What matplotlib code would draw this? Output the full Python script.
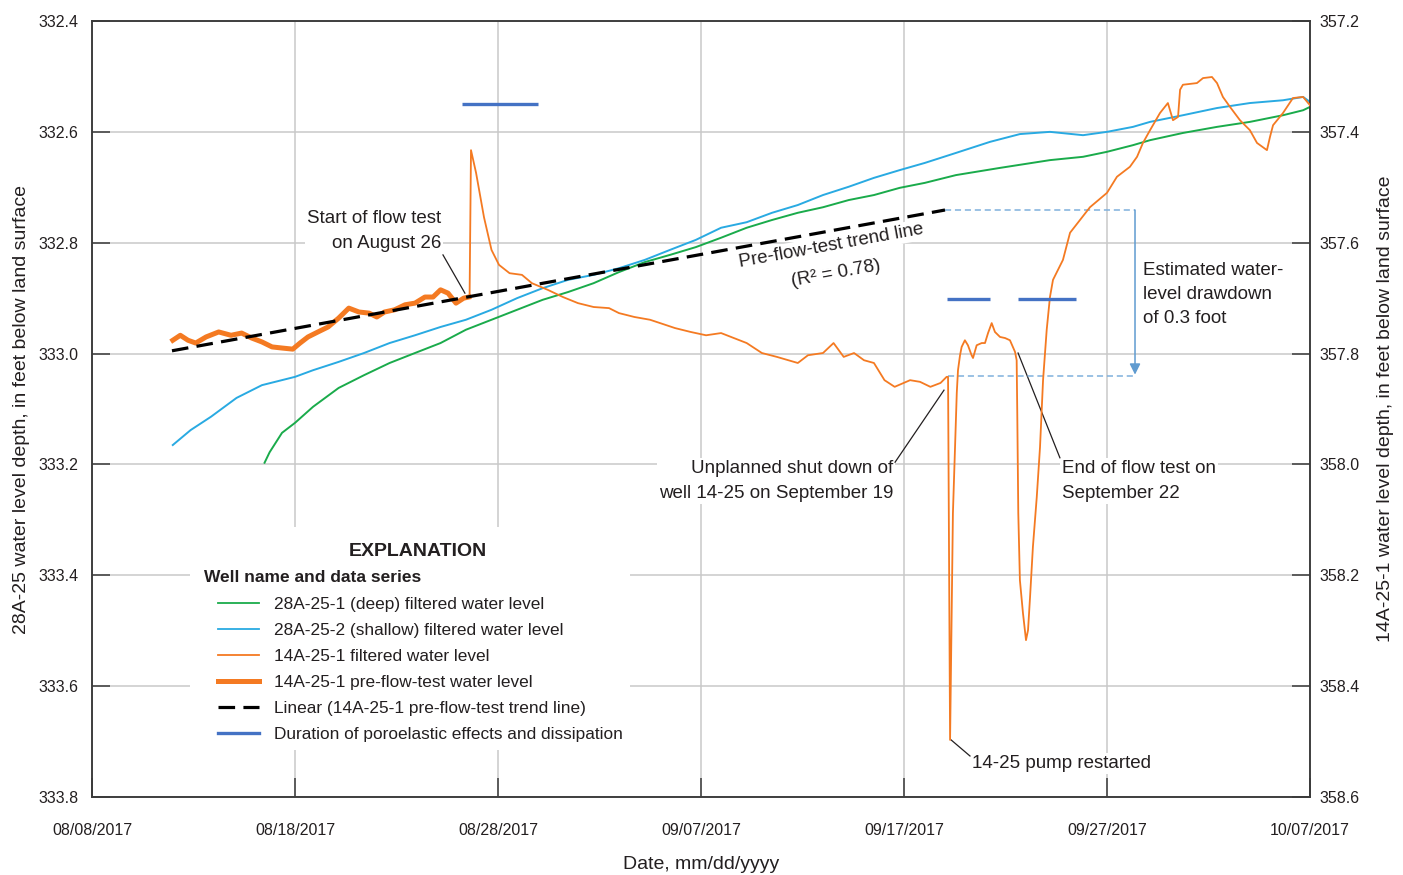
import matplotlib
matplotlib.use("Agg")
import matplotlib.pyplot as plt
import matplotlib.dates as mdates
from matplotlib.lines import Line2D
from matplotlib.patches import Rectangle
import numpy as np
import pandas as pd

plt.rcParams['font.family'] = ['Liberation Sans Narrow', 'Liberation Sans', 'DejaVu Sans']
txt_color = '#231f20'

# dias contados desde 08/08/2017
green_days = [8.50, 8.75, 9.36, 10.00, 10.89, 12.15, 13.40, 14.66, 15.91, 17.17, 18.42, 19.68, 20.94,
              22.20, 23.45, 24.71, 25.96, 27.23, 28.47, 29.74, 30.99, 32.25, 33.50, 34.77, 36.01, 37.28,
              38.52, 39.79, 41.03, 42.56, 44.73, 47.19, 48.82, 50.00, 51.28, 52.12, 53.74, 55.42, 57.04,
              58.67, 59.66, 60.00]
green_vals = [333.197, 333.178, 333.143, 333.125, 333.096, 333.062, 333.039, 333.017, 332.999, 332.981,
              332.957, 332.939, 332.921, 332.903, 332.889, 332.873, 332.853, 332.835, 332.822, 332.808,
              332.791, 332.773, 332.759, 332.746, 332.736, 332.723, 332.714, 332.701, 332.692, 332.678,
              332.665, 332.651, 332.645, 332.636, 332.624, 332.615, 332.602, 332.591, 332.582, 332.570,
              332.561, 332.555]

blue_days = [3.98, 4.86, 5.86, 7.12, 8.37, 10.00, 10.89, 12.15, 13.40, 14.66, 15.91, 17.17, 18.42, 19.68,
             20.94, 22.20, 23.45, 24.71, 25.96, 27.23, 28.47, 29.74, 30.99, 32.25, 33.50, 34.77, 36.01,
             37.28, 38.52, 39.79, 41.03, 42.56, 44.24, 45.71, 47.19, 48.82, 50.00, 51.28, 52.12, 53.74,
             55.42, 57.04, 58.67, 59.66, 60.00]
blue_vals = [333.165, 333.138, 333.114, 333.080, 333.057, 333.042, 333.030, 333.015, 332.999, 332.981,
             332.967, 332.952, 332.939, 332.921, 332.900, 332.882, 332.867, 332.858, 332.846, 332.831,
             332.813, 332.795, 332.773, 332.763, 332.746, 332.732, 332.714, 332.699, 332.683, 332.669,
             332.656, 332.638, 332.618, 332.604, 332.600, 332.606, 332.600, 332.591, 332.582, 332.570,
             332.557, 332.548, 332.543, 332.537, 332.546]

pre_days = [3.98, 4.35, 4.73, 5.11, 5.62, 6.24, 6.85, 7.37, 7.87, 8.37, 8.87, 9.36, 9.89, 10.25, 10.64,
            11.13, 11.63, 12.15, 12.65, 13.15, 13.65, 14.03, 14.41, 14.91, 15.42, 15.91, 16.40, 16.80,
            17.17, 17.54, 17.93, 18.31, 18.56]
pre_vals = [357.776, 357.767, 357.776, 357.781, 357.770, 357.761, 357.767, 357.763, 357.772, 357.779,
            357.788, 357.790, 357.792, 357.781, 357.770, 357.761, 357.752, 357.736, 357.718, 357.725,
            357.727, 357.734, 357.725, 357.721, 357.712, 357.709, 357.698, 357.698, 357.685, 357.691,
            357.709, 357.700, 357.698]

filt_days = [18.56, 18.60, 18.67, 18.92, 19.31, 19.68, 20.05, 20.57, 21.18, 21.67, 22.45, 23.20, 23.94,
             24.71, 25.47, 25.96, 26.72, 27.49, 28.23, 28.72, 29.49, 30.25, 30.99, 31.48, 32.25, 33.00,
             33.74, 34.77, 35.27, 36.01, 36.53, 37.03, 37.54, 38.03, 38.52, 39.04, 39.54, 40.30, 40.79,
             41.30, 41.80, 42.10, 42.17, 42.27, 42.41, 42.60, 42.66, 42.76, 42.84, 43.00, 43.15, 43.33,
             43.40, 43.58, 43.83, 43.99, 44.14, 44.32, 44.48, 44.73, 44.98, 45.22, 45.47, 45.55, 45.58,
             45.63, 45.71, 45.86, 46.01, 46.11, 46.21, 46.35, 46.54, 46.70, 46.85, 47.03, 47.19, 47.34,
             47.83, 48.18, 49.16, 50.00, 50.49, 51.13, 51.48, 51.77, 52.12, 52.61, 53.00, 53.25, 53.50,
             53.60, 53.74, 54.43, 54.73, 55.17, 55.42, 55.71, 56.06, 56.55, 57.04, 57.39, 57.88, 58.03,
             58.18, 58.67, 59.16, 59.66, 60.00]
filt_vals = [357.698, 357.698, 357.433, 357.474, 357.554, 357.613, 357.640, 357.655, 357.658, 357.673,
             357.685, 357.698, 357.709, 357.716, 357.718, 357.727, 357.734, 357.739, 357.748, 357.754,
             357.761, 357.767, 357.763, 357.770, 357.781, 357.799, 357.806, 357.817, 357.803, 357.799,
             357.781, 357.806, 357.799, 357.812, 357.817, 357.848, 357.860, 357.848, 357.851, 357.860,
             357.853, 357.842, 357.842, 358.497, 358.088, 357.871, 357.830, 357.803, 357.788, 357.776,
             357.785, 357.803, 357.808, 357.785, 357.781, 357.781, 357.763, 357.745, 357.761, 357.770,
             357.772, 357.776, 357.797, 357.812, 357.907, 358.088, 358.209, 358.268, 358.317, 358.299,
             358.239, 358.149, 358.059, 357.969, 357.848, 357.757, 357.698, 357.667, 357.631, 357.582,
             357.536, 357.510, 357.481, 357.463, 357.445, 357.420, 357.397, 357.366, 357.348, 357.379,
             357.373, 357.324, 357.315, 357.312, 357.303, 357.301, 357.312, 357.337, 357.355, 357.379,
             357.397, 357.420, 357.433, 357.409, 357.388, 357.366, 357.339, 357.337, 357.352]

# linea de tendencia (extremos) y duraciones poroelasticas
trend_days = [3.94, 42.02]
trend_vals = [357.795, 357.541]
dur_starts = [18.23, 42.12, 45.62]
dur_ends = [21.97, 44.24, 48.47]
dur_vals = [357.350, 357.702, 357.702]
drawdown_days = [42.02, 51.38]
drawdown_top = 357.541
drawdown_bottom = 357.840

tick_labels = ['08/08/2017', '08/18/2017', '08/28/2017', '09/07/2017', '09/17/2017', '09/27/2017', '10/07/2017']
left_ticks = [332.4, 332.6, 332.8, 333.0, 333.2, 333.4, 333.6, 333.8]
right_ticks = [357.2, 357.4, 357.6, 357.8, 358.0, 358.2, 358.4, 358.6]

base = mdates.date2num(pd.Timestamp('2017-08-08'))
def fecha(dias):
    return base + np.array(dias, dtype=float)

c_green = '#1aab4b'
c_blue = '#29aae2'
c_orange = '#f47a22'
c_bar = '#4472c4'
c_dd = '#7fb0dc'

fig = plt.figure(figsize=(14.03, 8.75), dpi=100)
ax = fig.add_axes([0.06557, 0.08914, 0.86814, 0.88686])
ax2 = ax.twinx()

ax.set_ylim(333.8, 332.4)
ax2.set_ylim(358.6, 357.2)
ax.set_xlim(fecha([0])[0], fecha([60])[0])

ax.set_axisbelow(True)
ax.grid(True, color='#c9c9c9', lw=1.1)

# series del eje izquierdo
ln_green, = ax.plot(fecha(green_days), green_vals, color=c_green, lw=1.4, zorder=2)
ln_blue, = ax.plot(fecha(blue_days), blue_vals, color=c_blue, lw=1.4, zorder=2)

# series del eje derecho
ln_filt, = ax2.plot(fecha(filt_days), filt_vals, color=c_orange, lw=1.3, zorder=3)
ln_pre, = ax2.plot(fecha(pre_days), pre_vals, color=c_orange, lw=3.6, zorder=4)
ln_trend, = ax2.plot(fecha(trend_days), trend_vals, color='black', lw=2.3, dashes=(5.2, 2.6), zorder=5)
for s, e, v in zip(dur_starts, dur_ends, dur_vals):
    ax2.plot(fecha([s, e]), [v, v], color=c_bar, lw=2.4, solid_capstyle='butt', zorder=3)

# abatimiento estimado
ax2.plot(fecha(drawdown_days), [drawdown_top, drawdown_top], color=c_dd, lw=1.1, dashes=(4, 2.5), zorder=2)
ax2.plot(fecha([42.17, drawdown_days[1]]), [drawdown_bottom, drawdown_bottom], color=c_dd, lw=1.1,
         dashes=(4, 2.5), zorder=2)
xa = fecha([drawdown_days[1]])[0]
ax2.annotate('', xy=(xa, drawdown_bottom - 0.002), xytext=(xa, drawdown_top),
             arrowprops=dict(arrowstyle='-|>', color='#5f9bd0', lw=1.1, mutation_scale=16,
                             shrinkA=0, shrinkB=0), zorder=2)

# textos
box = dict(facecolor='white', edgecolor='none', pad=1.5)
fs = 13.5
ls = 1.55
ax.text(fecha([17.19])[0], 332.779, 'Start of flow test\non August 26', ha='right', va='center',
        fontsize=fs, color=txt_color, linespacing=ls, bbox=box, zorder=1)
ax.plot(fecha([17.29, 18.37]), [332.822, 332.891], color=txt_color, lw=0.9, zorder=3)
ax.text(fecha([36.40])[0], 332.806, 'Pre-flow-test trend line', ha='center', va='center', rotation=10.3,
        rotation_mode='anchor', fontsize=fs, color=txt_color, bbox=box, zorder=1)
ax.text(fecha([36.65])[0], 332.855, '(R² = 0.78)', ha='center', va='center', rotation=10.3,
        rotation_mode='anchor', fontsize=fs, color=txt_color, zorder=1)
ax.text(fecha([51.77])[0], 332.893, 'Estimated water-\nlevel drawdown\nof 0.3 foot', ha='left', va='center',
        fontsize=fs, color=txt_color, linespacing=ls, bbox=box, zorder=1)
ax.text(fecha([39.46])[0], 333.230, 'Unplanned shut down of\nwell 14-25 on September 19', ha='right',
        va='center', fontsize=fs, color=txt_color, linespacing=ls, bbox=box, zorder=1)
ax.plot(fecha([39.56, 41.97]), [333.196, 333.066], color=txt_color, lw=0.9, zorder=3)
ax.text(fecha([47.78])[0], 333.230, 'End of flow test on\nSeptember 22', ha='left', va='center',
        fontsize=fs, color=txt_color, linespacing=ls, bbox=box, zorder=1)
ax.plot(fecha([47.68, 45.62]), [333.188, 332.999], color=txt_color, lw=0.9, zorder=3)
ax.text(fecha([43.35])[0], 333.740, '14-25 pump restarted', ha='left', va='center',
        fontsize=fs, color=txt_color, bbox=box, zorder=1)
ax.plot(fecha([43.25, 42.32]), [333.726, 333.697], color=txt_color, lw=0.9, zorder=3)

# cuadro de explicacion
ax.add_patch(Rectangle((0.0805, 0.0606), 0.3612, 0.2874, transform=ax.transAxes, facecolor='white',
                       edgecolor='none', zorder=1))
ax.text(0.2677, 0.3160, 'EXPLANATION', transform=ax.transAxes, ha='center', va='center',
        fontsize=14, fontweight='bold', color=txt_color, zorder=1.5)
ax.text(0.0920, 0.2835, 'Well name and data series', transform=ax.transAxes, ha='left', va='center',
        fontsize=12.5, fontweight='bold', color=txt_color, zorder=1.5)
handles = [Line2D([], [], color=c_green, lw=1.3), Line2D([], [], color=c_blue, lw=1.3),
           Line2D([], [], color=c_orange, lw=1.3), Line2D([], [], color=c_orange, lw=3.6),
           Line2D([], [], color='black', lw=2.3, dashes=(5.2, 2.6)), Line2D([], [], color=c_bar, lw=2.4)]
labels = ['28A-25-1 (deep) filtered water level', '28A-25-2 (shallow) filtered water level',
          '14A-25-1 filtered water level', '14A-25-1 pre-flow-test water level',
          'Linear (14A-25-1 pre-flow-test trend line)', 'Duration of poroelastic effects and dissipation']
leg = ax2.legend(handles, labels, loc='upper left', bbox_to_anchor=(0.1034, 0.2576),
                 bbox_transform=ax.transAxes, frameon=False, fontsize=12.4, handlelength=2.4,
                 handletextpad=0.86, labelspacing=0.63, borderpad=0, borderaxespad=0)
for t in leg.get_texts():
    t.set_color(txt_color)

# ejes
ax.set_xticks(fecha([0, 10, 20, 30, 40, 50, 60]))
ax.set_xticklabels(tick_labels)
ax.set_yticks(left_ticks)
ax.set_yticklabels([f'{v:.1f}' for v in left_ticks])
ax2.set_yticks(right_ticks)
ax2.set_yticklabels([f'{v:.1f}' for v in right_ticks])
ax.tick_params(axis='x', direction='in', length=13.5, width=1.1, color='#3a3a3a', pad=19,
               labelsize=11.5, labelcolor=txt_color)
ax.tick_params(axis='y', direction='in', length=13, width=1.1, color='#3a3a3a', pad=10,
               labelsize=11.5, labelcolor=txt_color)
ax2.tick_params(axis='y', direction='in', length=13, width=1.1, color='#3a3a3a', pad=7,
                labelsize=11.5, labelcolor=txt_color)
for a in (ax, ax2):
    for sp in a.spines.values():
        sp.set_color('#3a3a3a')
        sp.set_linewidth(1.1)

ax.set_xlabel('Date, mm/dd/yyyy', fontsize=14, color=txt_color)
ax.xaxis.set_label_coords(0.5, -0.076)
ax.set_ylabel('28A-25 water level depth, in feet below land surface', fontsize=14, color=txt_color)
ax.yaxis.set_label_coords(-0.051, 0.5)
ax2.set_ylabel('14A-25-1 water level depth, in feet below land surface', fontsize=14, color=txt_color,
               rotation=90)
ax2.yaxis.set_label_coords(1.055, 0.5)

fig.savefig('out.png', dpi=100)
